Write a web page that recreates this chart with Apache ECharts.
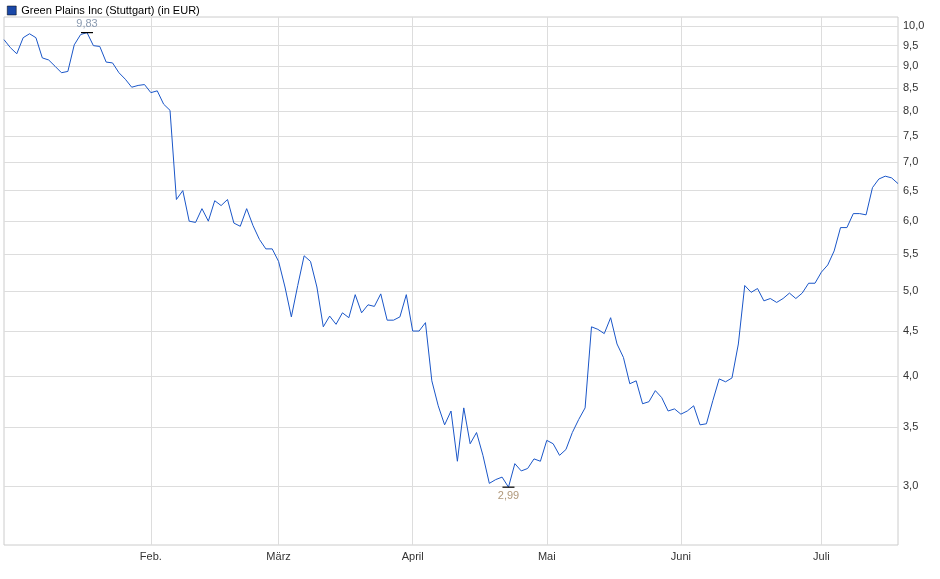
<!DOCTYPE html><html><head><meta charset="utf-8">
<script src="https://cdn.jsdelivr.net/npm/echarts@6/dist/echarts.min.js"></script>
<style>html,body{margin:0;padding:0;background:#fff}#c{width:940px;height:579px}</style></head><body><div id="c"></div>
<script>
const values=[9.65,9.45,9.3,9.7,9.8,9.7,9.2,9.15,9.0,8.85,8.88,9.52,9.78,9.83,9.5,9.48,9.1,9.08,8.85,8.7,8.52,8.56,8.58,8.4,8.44,8.15,8.02,6.35,6.5,6.0,5.98,6.2,6.0,6.33,6.25,6.35,5.97,5.92,6.2,5.93,5.72,5.58,5.58,5.4,5.05,4.67,5.07,5.48,5.4,5.05,4.55,4.68,4.58,4.72,4.66,4.95,4.72,4.82,4.8,4.96,4.63,4.63,4.67,4.95,4.5,4.5,4.6,3.95,3.7,3.52,3.65,3.2,3.68,3.35,3.45,3.25,3.02,3.05,3.07,2.99,3.18,3.12,3.14,3.22,3.2,3.38,3.35,3.25,3.3,3.45,3.57,3.68,4.55,4.52,4.47,4.66,4.35,4.2,3.92,3.95,3.72,3.74,3.85,3.78,3.65,3.67,3.62,3.65,3.7,3.52,3.53,3.75,3.97,3.94,3.98,4.35,5.07,4.98,5.03,4.87,4.9,4.85,4.9,4.97,4.9,4.97,5.1,5.1,5.25,5.35,5.55,5.9,5.9,6.12,6.12,6.1,6.55,6.7,6.75,6.72,6.62];
const monthLabels={23:'Feb.',43:'März',64:'April',85:'Mai',106:'Juni',128:'Juli'};
const yTicks=[3.0,3.5,4.0,4.5,5.0,5.5,6.0,6.5,7.0,7.5,8.0,8.5,9.0,9.5,10.0];
const categories=values.map((v,i)=>monthLabels[i]||'');
const chart=echarts.init(document.getElementById('c'));
const show=(i)=>!!monthLabels[i];
chart.setOption({
  animation:false,
  legend:{show:true,left:2,top:0,itemWidth:9,itemHeight:9,icon:'rect',textStyle:{fontFamily:'Liberation Sans, Arial',fontSize:11,color:'#000'},data:[{name:'Green Plains Inc (Stuttgart) (in EUR)',itemStyle:{color:'#1a48a8',borderColor:'#000',borderWidth:0.5}}]},
  grid:{left:4,right:42,top:17,bottom:34,show:true,borderColor:'#ccc',borderWidth:1},
  xAxis:{type:'category',data:categories,boundaryGap:false,
    axisLine:{show:false},axisTick:{show:false},
    axisLabel:{interval:show,color:'#333',fontSize:11,fontFamily:'Liberation Sans, Arial',margin:6},
    splitLine:{show:true,interval:show,lineStyle:{color:'#ddd'}}},
  yAxis:{type:'log',logBase:10,position:'right',min:2.57,max:10.24,
    axisLine:{show:false},
    axisTick:{show:false,customValues:yTicks},
    axisLabel:{customValues:yTicks,color:'#333',fontSize:11,fontFamily:'Liberation Sans, Arial',margin:5,formatter:v=>v.toFixed(1).replace('.',',')},
    splitLine:{show:true,lineStyle:{color:'#ddd'}}},
  series:[{name:'Green Plains Inc (Stuttgart) (in EUR)',type:'line',data:values,symbol:'none',lineStyle:{color:'#1a56c8',width:1},itemStyle:{color:'#1a48a8'},
    markPoint:{symbol:'rect',symbolSize:[12,1.2],itemStyle:{color:'#000'},
      data:[{type:'max',label:{show:true,position:'top',distance:3,color:'#8a9ab0',fontSize:11,formatter:p=>p.value.toFixed(2).replace('.',',')}},
            {type:'min',label:{show:true,position:'bottom',distance:3,color:'#b0987a',fontSize:11,formatter:p=>p.value.toFixed(2).replace('.',',')}}]}}]
});
</script></body></html>
